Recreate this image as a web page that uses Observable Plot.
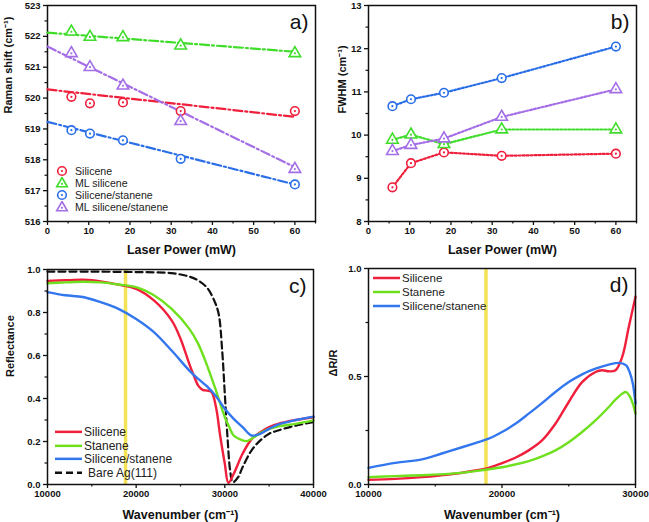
<!DOCTYPE html>
<html>
<head>
<meta charset="utf-8">
<script src="https://cdn.jsdelivr.net/npm/d3@7"></script>
<script src="https://cdn.jsdelivr.net/npm/@observablehq/plot@0.6"></script>
<style>
  body { margin: 0; background: #fff; font-family: "Liberation Sans", Arial, sans-serif; }
  #root { position: relative; width: 649px; height: 522px; overflow: hidden; background: #fff; }
  .panel { position: absolute; }
  .panel svg { overflow: visible; }
  .legend { position: absolute; font-family: "Liberation Sans", Arial, sans-serif; color: #222; }
  .legend .row { display: flex; align-items: center; white-space: nowrap; }
  .legend svg { display: block; }
</style>
</head>
<body>
<div id="root"></div>
<script>
// ---------- Panel a / b data ----------
const power = [5.8, 10.3, 18.3, 32.3, 60];
const ramanSilicene = [520.04, 519.83, 519.86, 519.58, 519.58];
const ramanMLSilicene = [522.15, 521.98, 521.97, 521.70, 521.45];
const ramanSiliceneStanene = [518.96, 518.85, 518.63, 518.03, 517.20];
const ramanMLSiliceneStanene = [521.45, 521.00, 520.40, 519.25, 517.70];
const fitPower = [0, 60];
const fitSilicene = [520.28, 519.39];
const fitMLSilicene = [522.12, 521.50];
const fitSiliceneStanene = [519.23, 517.20];
const fitMLSiliceneStanene = [521.67, 517.76];
const fwhmSilicene = [8.79, 9.35, 9.60, 9.52, 9.57];
const fwhmMLSilicene = [9.89, 10.01, 9.79, 10.13, 10.13];
const fwhmSiliceneStanene = [10.67, 10.83, 10.98, 11.32, 12.05];
const fwhmMLSiliceneStanene = [9.63, 9.77, 9.92, 10.42, 11.06];
const ramanNames = ["Silicene", "ML silicene", "Silicene/stanene", "ML silicene/stanene"];
const ramanSymbols = ["circle", "triangle", "circle", "triangle"];
const ramanColors = ["#f0203c", "#3fdd2a", "#2b6fe8", "#a46ee6"];

// ---------- Panel c data ----------
const wnC = [10000, 12000, 14000, 15000, 16000, 18000, 20000, 22000, 24000, 25000, 26000, 26500, 27000, 27500, 28000, 28500, 29000, 29500, 30000, 30400, 31000, 32000, 33000, 34000, 35000, 36000, 38000, 40000];
const reflSilicene = [0.947, 0.950, 0.952, 0.950, 0.945, 0.930, 0.910, 0.856, 0.763, 0.678, 0.560, 0.507, 0.460, 0.440, 0.437, 0.430, 0.360, 0.220, 0.096, 0.008, 0.050, 0.143, 0.210, 0.243, 0.267, 0.282, 0.300, 0.313];
const wnC2 = [10000, 12000, 14000, 16000, 18000, 20000, 22000, 24000, 26000, 27000, 28000, 29000, 30000, 30500, 31000, 32000, 32500, 33000, 34000, 35000, 36000, 38000, 40000];
const reflStanene = [0.936, 0.940, 0.943, 0.940, 0.930, 0.918, 0.880, 0.817, 0.724, 0.654, 0.553, 0.437, 0.313, 0.267, 0.228, 0.205, 0.202, 0.212, 0.239, 0.259, 0.270, 0.282, 0.298];
const wnC3 = [10000, 12000, 14000, 16000, 18000, 20000, 22000, 24000, 26000, 27000, 28000, 29000, 30000, 31000, 32000, 33000, 34000, 35000, 36000, 38000, 40000];
const reflSiliceneStanene = [0.895, 0.880, 0.872, 0.848, 0.817, 0.770, 0.709, 0.623, 0.530, 0.491, 0.456, 0.410, 0.352, 0.305, 0.267, 0.228, 0.236, 0.259, 0.279, 0.300, 0.316];
const wnAg = [10000, 15000, 20000, 24000, 26000, 27000, 28000, 28800, 29300, 29700, 30000, 30300, 30600, 30900, 31500, 32000, 33000, 34000, 35000, 36000, 38000, 40000];
const reflAg = [0.990, 0.990, 0.988, 0.983, 0.967, 0.949, 0.915, 0.856, 0.794, 0.623, 0.420, 0.220, 0.065, 0.010, 0.034, 0.080, 0.158, 0.205, 0.236, 0.251, 0.274, 0.290];
const laserLine = [18800];

// ---------- Panel d data ----------
const wnD = [10000, 12000, 14000, 16000, 18000, 19000, 20000, 21000, 22000, 23000, 24000, 25000, 26000, 27000, 27500, 28000, 28500, 29000, 29500, 30000];
const drSilicene = [0.022, 0.026, 0.034, 0.046, 0.065, 0.077, 0.099, 0.124, 0.158, 0.204, 0.281, 0.382, 0.474, 0.521, 0.529, 0.524, 0.529, 0.590, 0.730, 0.869];
const wnD2 = [10000, 12000, 14000, 16000, 18000, 20000, 22000, 23000, 24000, 25000, 26000, 27000, 28000, 28500, 29000, 29300, 29600, 29800, 30000];
const drStanene = [0.034, 0.039, 0.043, 0.049, 0.062, 0.080, 0.108, 0.130, 0.158, 0.196, 0.243, 0.297, 0.359, 0.393, 0.420, 0.428, 0.405, 0.374, 0.328];
const wnD3 = [10000, 12000, 14000, 15000, 16000, 18000, 19000, 20000, 21000, 22000, 23000, 24000, 25000, 26000, 27000, 28000, 28800, 29300, 29600, 29800, 30000];
const drSiliceneStanene = [0.077, 0.100, 0.116, 0.134, 0.153, 0.192, 0.212, 0.243, 0.281, 0.328, 0.377, 0.428, 0.474, 0.510, 0.536, 0.555, 0.563, 0.552, 0.513, 0.467, 0.374];
const specNames = ["Silicene", "Stanene", "Silicene/stanene", "Bare Ag(111)"];
const specColors = ["#f0203c", "#6fe01e", "#3377ee", "#111111"];

// ---------- helpers ----------
const FONT = "Liberation Sans, Arial, sans-serif";
const root = document.getElementById("root");
function place(el, left, top) {
  const d = document.createElement("div");
  d.className = "panel";
  d.style.left = left + "px"; d.style.top = top + "px";
  d.appendChild(el);
  root.appendChild(d);
}
const blank = () => "";
function axes(o) {
  return [
    Plot.frame({stroke: "#111", strokeWidth: 1.5}),
    Plot.axisX({ticks: o.xt, tickSize: 4, tickPadding: 2, fontWeight: "bold", fontSize: 9.5,
      tickFormat: o.xf || "d", label: null, strokeWidth: 1.3}),
    Plot.axisX({ticks: o.xm, tickSize: 2.5, tickFormat: blank, label: null, strokeWidth: 1.2}),
    Plot.axisY({ticks: o.yt, tickSize: 4, tickPadding: 3, fontWeight: "bold", fontSize: 9.5,
      tickFormat: o.yf || "d", label: null, strokeWidth: 1.3}),
    Plot.axisY({ticks: o.ym, tickSize: 2.5, tickFormat: blank, label: null, strokeWidth: 1.2}),
    Plot.text([o.xl], {frameAnchor: "bottom", dy: o.xlo, lineAnchor: "bottom", fontSize: o.xfs || 12.5,
      fontWeight: "bold", fill: "#111", fontFamily: FONT}),
    Plot.text([o.yl], {frameAnchor: "left", dx: -o.ylo, lineAnchor: "top", rotate: -90, fontSize: o.yfs || 11,
      fontWeight: "bold", fill: "#111", fontFamily: FONT})
  ];
}
function rows(xs, ys, name) { return xs.map((x, i) => ({x, y: ys[i], s: name})); }
function legend(items, left, top, rowH, fontSize, swatchW) {
  const L = document.createElement("div");
  L.className = "legend";
  L.style.left = left + "px"; L.style.top = top + "px"; L.style.fontSize = fontSize + "px";
  for (const it of items) {
    const r = document.createElement("div");
    r.className = "row"; r.style.height = rowH + "px";
    const ns = "http://www.w3.org/2000/svg";
    const s = document.createElementNS(ns, "svg");
    s.setAttribute("width", swatchW); s.setAttribute("height", rowH);
    if (it.symbol) {
      const cx = swatchW / 2, cy = rowH / 2;
      let sh;
      if (it.symbol === "circle") {
        sh = document.createElementNS(ns, "circle");
        sh.setAttribute("cx", cx); sh.setAttribute("cy", cy); sh.setAttribute("r", 4.3);
      } else {
        sh = document.createElementNS(ns, "path");
        sh.setAttribute("d", `M${cx},${cy - 5.5}L${cx + 5.3},${cy + 3.8}L${cx - 5.3},${cy + 3.8}Z`);
      }
      sh.setAttribute("fill", "white"); sh.setAttribute("stroke", it.color); sh.setAttribute("stroke-width", 1.6);
      s.appendChild(sh);
      const c = document.createElementNS(ns, "circle");
      c.setAttribute("cx", cx); c.setAttribute("cy", it.symbol === "circle" ? cy : cy + 0.8); c.setAttribute("r", 1.1);
      c.setAttribute("fill", it.color);
      s.appendChild(c);
    } else {
      const ln = document.createElementNS(ns, "line");
      ln.setAttribute("x1", 0); ln.setAttribute("x2", swatchW); ln.setAttribute("y1", rowH / 2); ln.setAttribute("y2", rowH / 2);
      ln.setAttribute("stroke", it.color); ln.setAttribute("stroke-width", 2.5);
      if (it.dash) ln.setAttribute("stroke-dasharray", it.dash);
      s.appendChild(ln);
    }
    r.appendChild(s);
    const t = document.createElement("span");
    t.textContent = it.name; t.style.marginLeft = (it.gap || 3) + "px";
    r.appendChild(t);
    L.appendChild(r);
  }
  root.appendChild(L);
}
function panelLabel(txt) {
  return Plot.text([txt], {frameAnchor: "top-right", dx: -7, dy: 9, textAnchor: "end", lineAnchor: "top",
    fontSize: 21, fontWeight: "normal", fill: "#111", fontFamily: FONT});
}
const baseStyle = {fontFamily: FONT, color: "#111", fontSize: "12px", background: "transparent"};

// ---------- Panel a ----------
const ramanPts = [
  ...rows(power, ramanSilicene, ramanNames[0]),
  ...rows(power, ramanMLSilicene, ramanNames[1]),
  ...rows(power, ramanSiliceneStanene, ramanNames[2]),
  ...rows(power, ramanMLSiliceneStanene, ramanNames[3])
];
const ramanFit = [
  ...rows(fitPower, fitSilicene, ramanNames[0]),
  ...rows(fitPower, fitMLSilicene, ramanNames[1]),
  ...rows(fitPower, fitSiliceneStanene, ramanNames[2]),
  ...rows(fitPower, fitMLSiliceneStanene, ramanNames[3])
];
const colorScale = {domain: ramanNames, range: ramanColors};
const symScale = {domain: ramanNames, range: ramanSymbols};
function pointMarks(data) {
  return [
    Plot.dot(data, {x: "x", y: "y", stroke: "s", symbol: "s", fill: "white", r: 4.3, strokeWidth: 1.6}),
    Plot.dot(data, {x: "x", y: "y", fill: "s", r: 1.1})
  ];
}
const pa = Plot.plot({
  width: 324, height: 255, marginLeft: 47, marginRight: 9, marginTop: 5, marginBottom: 34,
  style: baseStyle,
  x: {domain: [0, 65]}, y: {domain: [516, 523]},
  color: colorScale, symbol: symScale,
  marks: [
    ...axes({xt: d3.range(0, 61, 10), xm: d3.range(5, 66, 10), yt: d3.range(516, 524), ym: d3.range(516.5, 523, 1),
      xl: "Laser Power (mW)", xlo: 32, yl: "Raman shift (cm⁻¹)", ylo: 43}),
    Plot.line(ramanFit, {x: "x", y: "y", z: "s", stroke: "s", strokeWidth: 2.2, strokeDasharray: "9,3,2,3"}),
    ...pointMarks(ramanPts),
    panelLabel("a)")
  ]
});
place(pa, 0, 0);
legend(ramanNames.map((n, i) => ({name: n, color: ramanColors[i], symbol: ramanSymbols[i], gap: 3})), 52, 165, 12, 10.6, 20);

// ---------- Panel b ----------
const fwhmPts = [
  ...rows(power, fwhmSilicene, ramanNames[0]),
  ...rows(power, fwhmMLSilicene, ramanNames[1]),
  ...rows(power, fwhmSiliceneStanene, ramanNames[2]),
  ...rows(power, fwhmMLSiliceneStanene, ramanNames[3])
];
const pb = Plot.plot({
  width: 325, height: 255, marginLeft: 44, marginRight: 13, marginTop: 5, marginBottom: 34,
  style: baseStyle,
  x: {domain: [0, 65]}, y: {domain: [8, 13]},
  color: colorScale, symbol: symScale,
  marks: [
    ...axes({xt: d3.range(0, 61, 10), xm: d3.range(5, 66, 10), yt: d3.range(8, 14), ym: d3.range(8.5, 13, 1),
      xl: "Laser Power (mW)", xlo: 32, yl: "FWHM (cm⁻¹)", ylo: 30}),
    Plot.line(fwhmPts, {x: "x", y: "y", z: "s", stroke: "s", strokeWidth: 2.2, strokeDasharray: "2,2"}),
    ...pointMarks(fwhmPts),
    panelLabel("b)")
  ]
});
place(pb, 324, 0);

// ---------- Panel c ----------
const specScale = {domain: specNames, range: specColors};
const reflData = [
  ...rows(wnC, reflSilicene, specNames[0]),
  ...rows(wnC2, reflStanene, specNames[1]),
  ...rows(wnC3, reflSiliceneStanene, specNames[2])
];
const pc = Plot.plot({
  width: 324, height: 267, marginLeft: 47, marginRight: 11, marginTop: 14, marginBottom: 38,
  style: baseStyle,
  x: {domain: [10000, 40000]}, y: {domain: [0, 1]},
  color: specScale,
  marks: [
    Plot.ruleX(laserLine, {stroke: "#f3df45", strokeWidth: 3.5, strokeOpacity: 0.9}),
    Plot.line(rows(wnAg, reflAg, specNames[3]), {x: "x", y: "y", stroke: "s", strokeWidth: 2.2, strokeDasharray: "7,4", curve: "catmull-rom"}),
    Plot.line(reflData, {x: "x", y: "y", z: "s", stroke: "s", strokeWidth: 2.4, curve: "catmull-rom"}),
    ...axes({xt: [10000, 20000, 30000, 40000], xm: [15000, 25000, 35000], yt: d3.range(0, 1.01, 0.2), ym: d3.range(0.1, 1, 0.2),
      yf: ".1f", xl: "Wavenumber (cm⁻¹)", xlo: 34, yl: "Reflectance", ylo: 41}),
    panelLabel("c)")
  ]
});
place(pc, 0, 255);
legend(specNames.map((n, i) => ({name: n, color: specColors[i], dash: i === 3 ? "7,4" : null, gap: i === 3 ? 6 : 2})), 55, 425, 13.7, 12, 27);

// ---------- Panel d ----------
const drData = [
  ...rows(wnD, drSilicene, specNames[0]),
  ...rows(wnD2, drStanene, specNames[1]),
  ...rows(wnD3, drSiliceneStanene, specNames[2])
];
const pd = Plot.plot({
  width: 325, height: 267, marginLeft: 44, marginRight: 14, marginTop: 13, marginBottom: 38,
  style: baseStyle,
  x: {domain: [10000, 30000]}, y: {domain: [0, 1]},
  color: specScale,
  marks: [
    Plot.ruleX(laserLine, {stroke: "#f3df45", strokeWidth: 3.5, strokeOpacity: 0.9}),
    Plot.line(drData, {x: "x", y: "y", z: "s", stroke: "s", strokeWidth: 2.4, curve: "catmull-rom"}),
    ...axes({xt: [10000, 20000, 30000], xm: [15000, 25000], yt: [0, 0.5, 1], ym: [0.25, 0.75],
      yf: ".1f", xl: "Wavenumber (cm⁻¹)", xlo: 34, yl: "ΔR/R", ylo: 39}),
    panelLabel("d)")
  ]
});
place(pd, 324, 255);
legend(specNames.slice(0, 3).map((n, i) => ({name: n, color: specColors[i], gap: 2})), 373, 271, 14, 11.5, 27);
</script>
</body>
</html>
